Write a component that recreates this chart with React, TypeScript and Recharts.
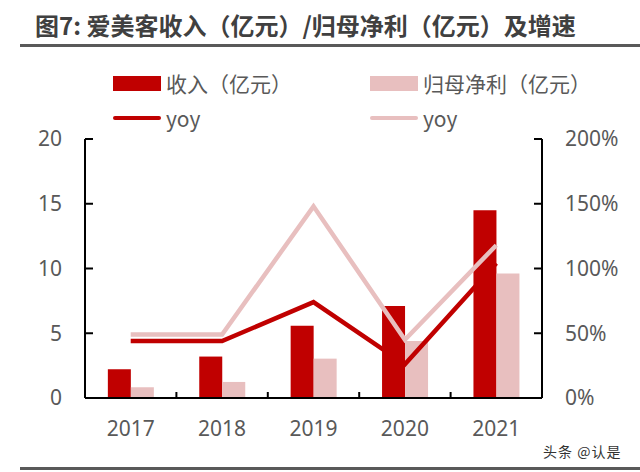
import {
  ComposedChart,
  Bar,
  Line,
  XAxis,
  YAxis,
} from "recharts";

const years = ["2017", "2018", "2019", "2020", "2021"];
const revenue = [2.22, 3.2, 5.57, 7.11, 14.5];
const netProfit = [0.83, 1.24, 3.04, 4.41, 9.61];
const revenueYoy = [44, 44, 74, 26, 104];
const netProfitYoy = [49, 49, 148, 45, 118];

const amountTicks = [0, 5, 10, 15, 20];
const pctTicks = [0, 50, 100, 150, 200];

const DARK = "#C00000";
const LIGHT = "#E8BFBF";
const GREY = "#595959";
const LABEL_GAP = 23;

const data = years.map((year, i) => ({
  year,
  revenue: revenue[i],
  netProfit: netProfit[i],
  revenueYoy: revenueYoy[i],
  netProfitYoy: netProfitYoy[i],
}));

const legendItems = [
  { label: "收入（亿元）", color: DARK, kind: "bar", left: 113, top: 84 },
  { label: "归母净利（亿元）", color: LIGHT, kind: "bar", left: 370, top: 84 },
  { label: "yoy", color: DARK, kind: "line", left: 113, top: 119 },
  { label: "yoy", color: LIGHT, kind: "line", left: 370, top: 119 },
];

const tickStyle = { fill: GREY, fontSize: 21, fontFamily: "Noto Sans" };

// year label at the band centre, plus the short inward tick at the band edge
function YearTick(props: any) {
  const { x, y, payload, index } = props;
  const axisY = y - LABEL_GAP;
  const edge = x + (payload.offset || 0);
  return (
    <g>
      <text
        x={x}
        y={y}
        dy="0.71em"
        textAnchor="middle"
        fill={GREY}
        fontSize={21}
        fontFamily="Noto Sans"
      >
        {payload.value}
      </text>
      {index < years.length - 1 && (
        <line
          x1={edge}
          x2={edge}
          y1={axisY}
          y2={axisY - 6}
          stroke="#000"
          strokeWidth={2}
        />
      )}
    </g>
  );
}

export default function App() {
  return (
    <div
      style={{
        position: "absolute",
        left: 0,
        top: 0,
        width: 640,
        height: 472,
        background: "#fff",
        fontFamily: "'Noto Sans CJK SC', 'Noto Sans', sans-serif",
      }}
    >
      <div
        style={{
          position: "absolute",
          left: 35,
          top: 11,
          fontSize: 24,
          lineHeight: "28px",
          fontWeight: 700,
          color: "#404040",
          whiteSpace: "nowrap",
        }}
      >
        图7: 爱美客收入（亿元）/归母净利（亿元）及增速
      </div>
      <div
        style={{
          position: "absolute",
          left: 20,
          top: 44,
          width: 620,
          height: 3,
          background: GREY,
        }}
      />

      {legendItems.map((item, i) => (
        <div
          key={i}
          style={{
            position: "absolute",
            left: item.left,
            top: item.top - 15,
            height: 28,
            display: "flex",
            alignItems: "center",
            whiteSpace: "nowrap",
          }}
        >
          <div
            style={{
              width: 48,
              height: item.kind === "bar" ? 15 : 4.5,
              borderRadius: item.kind === "bar" ? 0 : 3,
              background: item.color,
              marginRight: 5,
            }}
          />
          <span style={{ fontSize: 21, color: GREY, lineHeight: "28px" }}>
            {item.label}
          </span>
        </div>
      ))}

      <div style={{ position: "absolute", left: 0, top: 0 }}>
        <ComposedChart
          width={640}
          height={472}
          data={data}
          margin={{ top: 139, right: 18, bottom: 44, left: 25 }}
          barCategoryGap="25%"
          barGap={0}
        >
          <XAxis
            dataKey="year"
            height={30}
            tickLine={false}
            tickSize={0}
            tickMargin={LABEL_GAP}
            axisLine={{ stroke: "#000", strokeWidth: 2 }}
            tick={YearTick}
            interval={0}
          />
          <YAxis
            yAxisId="amt"
            orientation="left"
            width={60}
            domain={[0, 20]}
            ticks={amountTicks}
            tickSize={-8}
            tickMargin={31}
            axisLine={{ stroke: "#000", strokeWidth: 2 }}
            tickLine={{ stroke: "#000", strokeWidth: 2 }}
            tick={tickStyle}
          />
          <YAxis
            yAxisId="pct"
            orientation="right"
            width={80}
            domain={[0, 200]}
            ticks={pctTicks}
            tickSize={-8}
            tickMargin={31}
            tickFormatter={(v) => `${v}%`}
            axisLine={{ stroke: "#000", strokeWidth: 2 }}
            tickLine={{ stroke: "#000", strokeWidth: 2 }}
            tick={tickStyle}
          />
          <Bar
            yAxisId="amt"
            dataKey="revenue"
            fill={DARK}
            isAnimationActive={false}
          />
          <Bar
            yAxisId="amt"
            dataKey="netProfit"
            fill={LIGHT}
            isAnimationActive={false}
          />
          <Line
            yAxisId="pct"
            dataKey="revenueYoy"
            stroke={DARK}
            strokeWidth={4.5}
            dot={false}
            activeDot={false}
            isAnimationActive={false}
          />
          <Line
            yAxisId="pct"
            dataKey="netProfitYoy"
            stroke={LIGHT}
            strokeWidth={4.5}
            dot={false}
            activeDot={false}
            isAnimationActive={false}
          />
        </ComposedChart>
      </div>

      <div
        style={{
          position: "absolute",
          left: 543,
          top: 441,
          fontSize: 14,
          letterSpacing: 1,
          color: "#333",
          whiteSpace: "nowrap",
        }}
      >
        头条 @认是
      </div>
      <div
        style={{
          position: "absolute",
          left: 20,
          top: 467,
          width: 620,
          height: 3,
          background: GREY,
        }}
      />
    </div>
  );
}
